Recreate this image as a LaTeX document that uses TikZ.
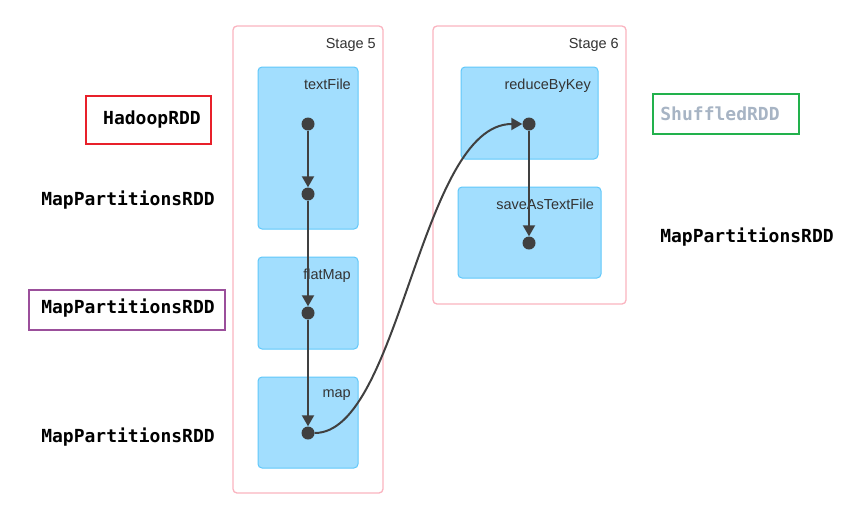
\documentclass[tikz,border=0pt]{standalone}
\usepackage{fontspec}
\setmainfont{Liberation Sans}
\newfontfamily\rddfont{DejaVu Sans Mono}
\usetikzlibrary{arrows.meta}
\definecolor{stageline}{RGB}{250,180,192}
\definecolor{opfill}{RGB}{162,222,254}
\definecolor{opline}{RGB}{96,200,250}
\definecolor{edgecol}{RGB}{64,64,64}
\definecolor{labcol}{RGB}{51,51,51}
\definecolor{redbox}{RGB}{232,32,42}
\definecolor{purplebox}{RGB}{155,79,155}
\definecolor{greenbox}{RGB}{34,177,76}
\definecolor{graytext}{RGB}{167,180,196}
\begin{document}
\begin{tikzpicture}[x=1pt,y=-1pt,
  stagebox/.style={draw=stageline,line width=1.3pt,rounded corners=4pt,fill=white},
  opbox/.style={draw=opline,line width=1pt,rounded corners=4pt,fill=opfill},
  stagelab/.style={anchor=north east,inner sep=0pt,font=\fontsize{14.5}{16}\selectfont,text=labcol},
  oplab/.style={anchor=north east,inner sep=0pt,font=\fontsize{14.5}{16}\selectfont,text=labcol},
  dot/.style={circle,fill=edgecol,minimum size=13pt,inner sep=0pt},
  flow/.style={draw=edgecol,line width=2pt,-{Triangle[length=11pt,width=12pt]}},
  rdd/.style={font=\rddfont\bfseries\fontsize{18}{20}\selectfont,inner sep=0pt},
  rddbox/.style={line width=2.5pt}
]
\useasboundingbox (0,0) rectangle (856,515);
% stages
\draw[stagebox] (233,26) rectangle (383,493);
\node[stagelab] (s5) at (376,38) {Stage 5};
\draw[stagebox] (433,26) rectangle (626,304);
\node[stagelab] (s6) at (619,38) {Stage 6};
% operation boxes
\draw[opbox] (258,67) rectangle (358,229);
\node[oplab] (l1) at (351,79) {textFile};
\draw[opbox] (258,257) rectangle (358,349);
\node[oplab] (l2) at (351,269) {flatMap};
\draw[opbox] (258,377) rectangle (358,468);
\node[oplab] (l3) at (351,389) {map};
\draw[opbox] (461,67) rectangle (598,159);
\node[oplab] (l4) at (591,79) {reduceByKey};
\draw[opbox] (458,187) rectangle (601,278);
\node[oplab] (l5) at (594,199) {saveAsTextFile};
% dots
\node[dot] (d1) at (308,124) {};
\node[dot] (d2) at (308,194) {};
\node[dot] (d3) at (308,313) {};
\node[dot] (d4) at (308,433) {};
\node[dot] (d5) at (529,124) {};
\node[dot] (d6) at (529,243) {};
% edges
\draw[flow] (d1) -- (d2);
\draw[flow] (d2) -- (d3);
\draw[flow] (d3) -- (d4);
\draw[flow] (d4.east) .. controls (400,433) and (420,124) .. (d5.west);
\draw[flow] (d5) -- (d6);
% RDD labels
\node[rdd] (h) at (152,120) {HadoopRDD};
\draw[rddbox,draw=redbox] (86,96) rectangle (211,144);
\node[rdd] (m1) at (128,200) {MapPartitionsRDD};
\node[rdd] (m2) at (128,308) {MapPartitionsRDD};
\draw[rddbox,draw=purplebox] (29,290) rectangle (225,330);
\node[rdd] (m3) at (128,437) {MapPartitionsRDD};
\node[rdd,text=graytext] (sh) at (720,114) {ShuffledRDD};
\draw[rddbox,draw=greenbox] (653,94) rectangle (799,134);
\node[rdd] (m4) at (747,237) {MapPartitionsRDD};
\end{tikzpicture}
\end{document}
